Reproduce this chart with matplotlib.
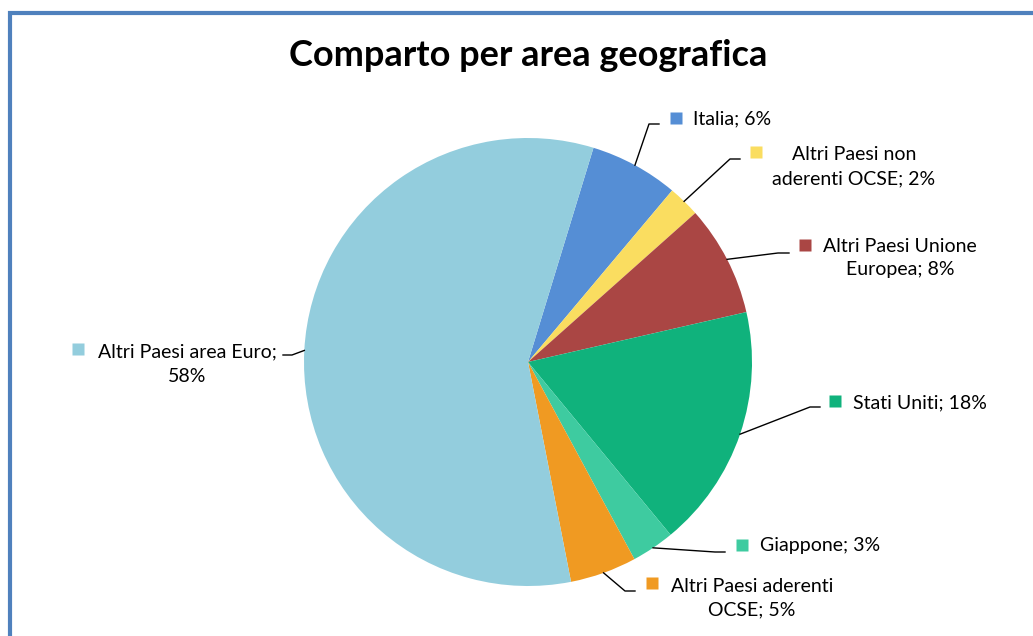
import matplotlib.pyplot as plt
import numpy as np
from matplotlib.patches import Rectangle

# slices clockwise starting from Italia
categories = [
    "Italia",
    "Altri Paesi non\naderenti OCSE",
    "Altri Paesi Unione\nEuropea",
    "Stati Uniti",
    "Giappone",
    "Altri Paesi aderenti\nOCSE",
    "Altri Paesi area Euro;\n",
]
shares = [6.4, 2.3, 8.0, 17.6, 3.1, 4.8, 57.8]
colors = ["#558ed5", "#fadd60", "#aa4644", "#10b27c", "#3ecba0", "#f09a22", "#93cddd"]
title = "Comparto per area geografica"

W, H = 1033, 636


def Y(py):
    return H - py


def main():
    plt.rcParams["font.family"] = ["Lato", "DejaVu Sans"]
    fig = plt.figure(figsize=(W / 100, H / 100), dpi=100)
    ax = fig.add_axes([0, 0, 1, 1])

    cx, cy, r = 528, Y(362), 224
    wedges, _ = ax.pie(
        shares,
        colors=colors,
        startangle=73,
        counterclock=False,
        center=(cx, cy),
        radius=r,
        frame=True,
    )
    ax.set_xlim(0, W)
    ax.set_ylim(0, H)
    ax.set_aspect("equal")
    ax.axis("off")

    # label layout: elbow start, elbow end, marker pos, text pos, alignment
    layout = [
        ((649, 124), (659, 124), (676, 118), (693, 119), "left"),
        ((730, 159), (740, 159), (756, 152), (854, 167), "center"),
        ((778, 253), (789, 253), (805, 245), (900, 258), "center"),
        ((810, 407), (820, 407), (835, 401), (853, 403), "left"),
        ((715, 552), (725, 552), (742, 545), (760, 546), "left"),
        ((625, 591), (635, 591), (652, 583), (752, 598), "center"),
        ((292, 355), (283, 355), (78, 349), (187, 364), "center"),
    ]

    for w, name, val, col, lay in zip(wedges, categories, shares, colors, layout):
        mid = np.deg2rad((w.theta1 + w.theta2) / 2)
        ax_x = cx + r * np.cos(mid)
        ax_y = cy + r * np.sin(mid)
        (e1x, e1y), (e2x, e2y), (mx, my), (tx, ty), ha = lay
        ax.plot([ax_x, e1x, e2x], [ax_y, Y(e1y), Y(e2y)], color="black", lw=1.0)
        ax.plot(mx, Y(my), marker="s", ms=9, color=col, mec="none")
        if name.endswith(";\n"):
            label = f"{name}{val:.0f}%"
        elif "\n" in name:
            first, second = name.split("\n")
            label = f"{first}\n{second}; {val:.0f}%"
        else:
            label = f"{name}; {val:.0f}%"
        ax.text(tx, Y(ty), label, ha=ha, va="center", multialignment="center",
                fontsize=14, color="black", linespacing=1.5)

    ax.text(528, Y(55), title, ha="center", va="center", fontsize=26,
            fontweight="bold", color="black")

    ax.add_patch(Rectangle((10, Y(650)), 1040, 650 - 12.5, fill=False,
                           edgecolor="#4f81bd", lw=3, clip_on=False))

    fig.savefig("out.png", dpi=100)
    plt.close(fig)


if __name__ == "__main__":
    main()
